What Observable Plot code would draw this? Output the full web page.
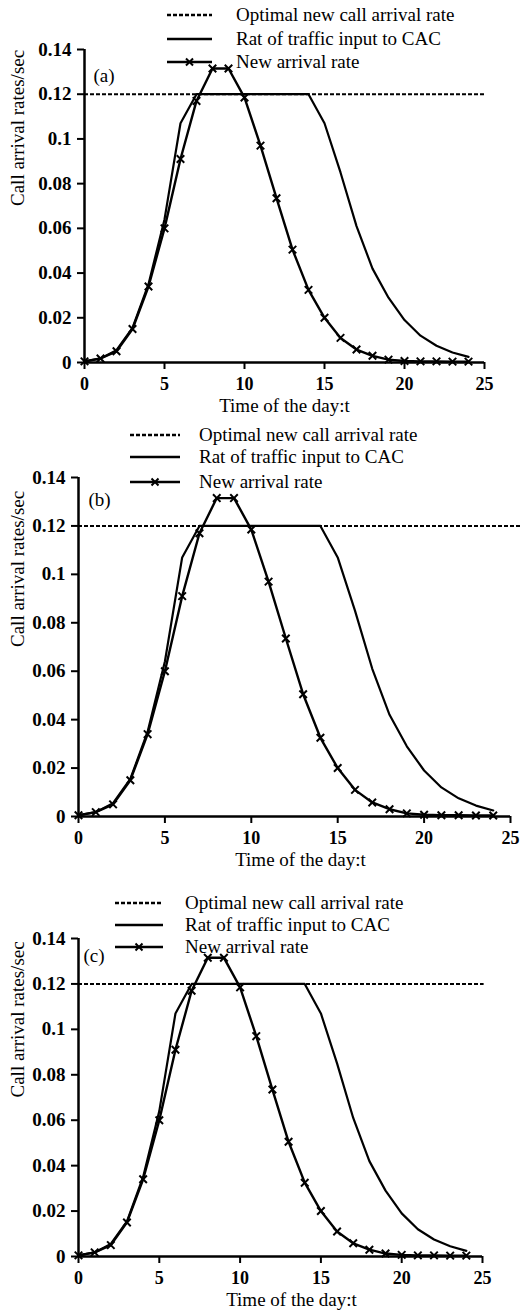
<!DOCTYPE html>
<html><head><meta charset="utf-8">
<script src="https://cdn.jsdelivr.net/npm/d3@7"></script>
<script src="https://cdn.jsdelivr.net/npm/@observablehq/plot@0.6"></script>
<style>
body{margin:0;background:#fff;}
#wrap{position:relative;width:521px;height:1314px;overflow:hidden;background:#fff;}
.panel{position:absolute;left:0;}
.legend{position:absolute;left:0;}
</style></head><body><div id="wrap"></div>
<script>
// ---- data ----
const hours = [0,1,2,3,4,5,6,7,8,9,10,11,12,13,14,15,16,17,18,19,20,21,22,23,24];
const newArrival = [0.0005,0.0018,0.005,0.015,0.034,0.060,0.091,0.117,0.1315,0.1315,0.1185,0.097,0.0735,0.0505,0.0325,0.020,0.011,0.0058,0.003,0.0013,0.0007,0.0005,0.0005,0.0004,0.0004];
const trafficInput = [0.0005,0.0018,0.0055,0.0155,0.035,0.064,0.107,0.12,0.12,0.12,0.12,0.12,0.12,0.12,0.12,0.107,0.085,0.061,0.042,0.029,0.019,0.012,0.0075,0.0045,0.0025];
const optimalRate = 0.12;
const xTicks = [0,5,10,15,20,25];
const yTicks = [0,0.02,0.04,0.06,0.08,0.1,0.12,0.14];
const yTickLabels = ["0","0.02","0.04","0.06","0.08","0.1","0.12","0.14"];
const legendLabels = ["Optimal new call arrival rate","Rat of traffic input to CAC","New arrival rate"];
const panelNames = ["(a)","(b)","(c)"];
const optimalEnd = [25.1,25.6,25.1];
const xLabel = "Time of the day:t";
const yLabel = "Call arrival rates/sec";

const FONT = '"Liberation Serif","Times New Roman",serif';
const data = hours.map((h,i)=>({t:h, newRate:newArrival[i], traffic:trafficInput[i]}));
const yLabMap = new Map(yTicks.map((v,i)=>[v,yTickLabels[i]]));

const layout = [
  {top:0,   height:430, ml:84, mr:37, mt:49, mb:68, ldx:9,  ldy:19, xdx:0,
   leg:{x0:167,x1:212,tx:236,rows:[15,39,62]}},
  {top:430, height:445, ml:78, mr:11, mt:47, mb:59, ldx:10, ldy:15, xdx:6,
   leg:{x0:130,x1:180,tx:199,rows:[435,457,482]}},
  {top:875, height:439, ml:78, mr:39, mt:63, mb:58, ldx:5,  ldy:10, xdx:11,
   leg:{x0:115,x1:163,tx:185,rows:[903,925,947]}}
];

const wrap = document.getElementById("wrap");

layout.forEach((p,k)=>{
  const chart = Plot.plot({
    width:521, height:p.height,
    marginLeft:p.ml, marginRight:p.mr, marginTop:p.mt, marginBottom:p.mb,
    x:{domain:[0,25], axis:null},
    y:{domain:[0,0.14], axis:null},
    style:{fontFamily:FONT, fontSize:"19px", color:"#000", background:"transparent", overflow:"visible"},
    marks:[
      Plot.ruleY([optimalRate],{x1:0,x2:optimalEnd[k],stroke:"#000",strokeWidth:2,strokeDasharray:"4,2"}),
      Plot.line(data,{x:"t",y:"traffic",stroke:"#000",strokeWidth:2.2}),
      Plot.line(data,{x:"t",y:"newRate",stroke:"#000",strokeWidth:2.4}),
      Plot.dot(data,{x:"t",y:"newRate",symbol:"times",r:3.5,stroke:"#000",strokeWidth:2}),
      Plot.axisX({ticks:xTicks,tickSize:7,tickPadding:8,tickFormat:d=>String(d),fontWeight:"bold",fontSize:18,strokeWidth:2,label:null}),
      Plot.axisY({ticks:yTicks,tickSize:7,tickPadding:6,tickFormat:d=>yLabMap.get(d),fontWeight:"bold",fontSize:19,strokeWidth:2,label:null}),
      Plot.ruleX([0],{y1:0,y2:0.14,stroke:"#000",strokeWidth:2.5}),
      Plot.ruleY([0],{x1:0,x2:25,stroke:"#000",strokeWidth:2.5}),
      Plot.text([xLabel],{text:d=>d,frameAnchor:"bottom",dy:49,dx:p.xdx,fontSize:19}),
      Plot.text([yLabel],{text:d=>d,frameAnchor:"left",rotate:-90,dx:17-p.ml,fontSize:19}),
      Plot.text([panelNames[k]],{text:d=>d,frameAnchor:"top-left",textAnchor:"start",dx:p.ldx,dy:p.ldy,fontSize:19})
    ]
  });
  const div = document.createElement("div");
  div.className = "panel";
  div.style.top = p.top + "px";
  div.appendChild(chart);
  wrap.appendChild(div);

  // legend overlay
  const L = p.leg;
  const top = L.rows[0] - 14;
  const svg = d3.create("svg").attr("width",521).attr("height",L.rows[2]-top+14)
    .attr("class","legend").style("top",top+"px").style("overflow","visible");
  const styles = [{dash:"4,2",marker:false},{dash:null,marker:false},{dash:null,marker:true}];
  L.rows.forEach((ry,i)=>{
    const y = ry - top;
    const ln = svg.append("line").attr("x1",L.x0).attr("x2",L.x1).attr("y1",y).attr("y2",y)
      .attr("stroke","#000").attr("stroke-width",2.4);
    if (styles[i].dash) ln.attr("stroke-dasharray",styles[i].dash);
    if (styles[i].marker){
      const cx=(L.x0+L.x1)/2, s=3.5;
      svg.append("path").attr("d",`M${cx-s},${y-s}L${cx+s},${y+s}M${cx-s},${y+s}L${cx+s},${y-s}`)
        .attr("stroke","#000").attr("stroke-width",2);
    }
    svg.append("text").attr("x",L.tx).attr("y",y).attr("dy","0.32em")
      .attr("font-family",FONT).attr("font-size",19).attr("fill","#000").text(legendLabels[i]);
  });
  wrap.appendChild(svg.node());
});
</script></body></html>
